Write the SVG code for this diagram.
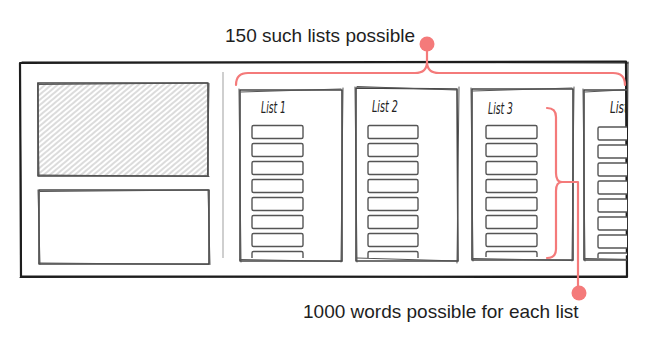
<svg xmlns="http://www.w3.org/2000/svg" width="650" height="339" viewBox="0 0 650 339">
<defs>
<style>
.frame{fill:none;stroke:#1e1e1e;stroke-width:2.2;stroke-linecap:round;stroke-linejoin:round}
.frame2{fill:none;stroke:#1e1e1e;stroke-width:1;stroke-linecap:round}
.box{fill:none;stroke:#444;stroke-width:1.6;stroke-linecap:round;stroke-linejoin:round}
.box2{fill:none;stroke:#555;stroke-width:1;stroke-linecap:round}
.item{fill:#fff;stroke:#555;stroke-width:1.4}
.title{font-family:"DejaVu Sans",sans-serif;font-style:italic;font-weight:200;font-size:15px;fill:#222}
.label{font-family:"Liberation Sans",Arial,sans-serif;font-size:19px;fill:#1e1e1e}
.red{fill:none;stroke:#f47a7a;stroke-width:2.2;stroke-linecap:round;stroke-linejoin:round}
.dot{fill:#f47a7a}
.hatch{stroke:#b8b8b8;stroke-width:1}
</style>
<pattern id="hatch" patternUnits="userSpaceOnUse" width="4" height="4" patternTransform="rotate(-40)">
<line x1="0" y1="2" x2="4" y2="2" class="hatch"/>
</pattern>
<clipPath id="fclip"><rect x="0" y="0" width="627" height="339"/></clipPath>
</defs>

<g id="frame">
<path class="frame" d="M20,63 L626,61.5 L627,277 L21,276.5 Z"/>
<path class="frame2" d="M22,62 L400,62.5 L628,63 M20,64 L21.5,276 M628,62 L626.5,276 M20,277.5 L627,276"/>
</g>

<g id="hatched-panel">
<rect x="38" y="83" width="170" height="93" fill="url(#hatch)"/>
<path class="box" d="M38,83 L208,83 L208,176 L38,176 Z"/>
<path class="box2" d="M39,84.5 L207,83 M37.5,83 L39,176 M209,83.5 L207.5,176.5 M38,175 L209,176.5"/>
</g>

<g id="empty-panel">
<path class="box" d="M39,190 L209,190 L209,264 L39,264 Z"/>
<path class="box2" d="M40,191.5 L208,190 M38,190 L40,264 M208,190 L210,264.5 M39,263 L209,264.5"/>
</g>

<g id="divider">
<line x1="223" y1="72" x2="223" y2="258" stroke="#cfcfcf" stroke-width="2"/>
</g>

<g id="list1">
<path class="box" d="M240,90 L342,90 L342,261 L240,261 Z"/>
<path class="box2" d="M241,92 L341,89 M239,89 L241,262 M343,88 L341,262 M240,259.5 L342,261.5"/>
<text class="title" x="261" y="113" textLength="25" lengthAdjust="spacingAndGlyphs">List 1</text>
<g>
<rect class="item" x="252" y="125.5" width="51" height="13" rx="1.5"/>
<rect class="item" x="252" y="143.5" width="51" height="13" rx="1.5"/>
<rect class="item" x="252" y="161.5" width="51" height="13" rx="1.5"/>
<rect class="item" x="252" y="179.5" width="51" height="13" rx="1.5"/>
<rect class="item" x="252" y="197.5" width="51" height="13" rx="1.5"/>
<rect class="item" x="252" y="215.5" width="51" height="13" rx="1.5"/>
<rect class="item" x="252" y="233.5" width="51" height="13" rx="1.5"/>
<path class="item" fill="none" d="M252,258 L252,253 Q252,251.5 253.5,251.5 L301.5,251.5 Q303,251.5 303,253 L303,258"/>
</g>
</g>

<g id="list2">
<path class="box" d="M356,88 L457,89 L458,261 L356,261 Z"/>
<path class="box2" d="M357,86.5 L456,90 M355,87 L357,262 M459,87 L457,263 M357,258 L458,261"/>
<text class="title" x="372" y="112" textLength="26" lengthAdjust="spacingAndGlyphs">List 2</text>
<g>
<rect class="item" x="368" y="125.5" width="50" height="13" rx="1.5"/>
<rect class="item" x="368" y="143.5" width="50" height="13" rx="1.5"/>
<rect class="item" x="368" y="161.5" width="50" height="13" rx="1.5"/>
<rect class="item" x="368" y="179.5" width="50" height="13" rx="1.5"/>
<rect class="item" x="368" y="197.5" width="50" height="13" rx="1.5"/>
<rect class="item" x="368" y="215.5" width="50" height="13" rx="1.5"/>
<rect class="item" x="368" y="233.5" width="50" height="13" rx="1.5"/>
<path class="item" fill="none" d="M368,258 L368,253 Q368,251.5 369.5,251.5 L416.5,251.5 Q418,251.5 418,253 L418,258"/>
</g>
</g>

<g id="list3">
<path class="box" d="M472,89 L573,89 L573,260 L472,260 Z"/>
<path class="box2" d="M473,91 L572,88 M471,88 L473,261 M574,87 L572,261 M473,258.5 L573,260.5"/>
<text class="title" x="488" y="114" textLength="25" lengthAdjust="spacingAndGlyphs">List 3</text>
<g>
<rect class="item" x="486" y="125.5" width="51" height="13" rx="1.5"/>
<rect class="item" x="486" y="143.5" width="51" height="13" rx="1.5"/>
<rect class="item" x="486" y="161.5" width="51" height="13" rx="1.5"/>
<rect class="item" x="486" y="179.5" width="51" height="13" rx="1.5"/>
<rect class="item" x="486" y="197.5" width="51" height="13" rx="1.5"/>
<rect class="item" x="486" y="215.5" width="51" height="13" rx="1.5"/>
<rect class="item" x="486" y="233.5" width="51" height="13" rx="1.5"/>
<path class="item" fill="none" d="M486,257 L486,253 Q486,251.5 487.5,251.5 L535.5,251.5 Q537,251.5 537,253 L537,257"/>
</g>
</g>

<g id="list4" clip-path="url(#fclip)">
<path class="box" d="M584,90 L660,90 M584,90 L584,260 L660,260"/>
<path class="box2" d="M585,92 L660,88 M583,89 L585,261 M585,258.5 L660,260"/>
<text class="title" x="610" y="113" textLength="18" lengthAdjust="spacingAndGlyphs">List</text>
<g>
<rect class="item" x="598" y="127" width="51" height="13" rx="1.5"/>
<rect class="item" x="598" y="145" width="51" height="13" rx="1.5"/>
<rect class="item" x="598" y="163" width="51" height="13" rx="1.5"/>
<rect class="item" x="598" y="181" width="51" height="13" rx="1.5"/>
<rect class="item" x="598" y="199" width="51" height="13" rx="1.5"/>
<rect class="item" x="598" y="217" width="51" height="13" rx="1.5"/>
<rect class="item" x="598" y="235" width="51" height="13" rx="1.5"/>
<path class="item" fill="none" d="M598,258 L598,254.5 Q598,253 599.5,253 L649,253"/>
</g>
</g>

<g id="connectors">
<path class="red" d="M236,85 Q236,73 248,73 L415,73 Q427,73 427,62 Q427,73 439,73 L613,73 Q625,73 625,85"/>
<path class="red" d="M427,62 L427,44"/>
<circle class="dot" cx="427" cy="44" r="7.5"/>
<path class="red" d="M547,108 Q556,108 556,117 L556,173 Q556,182 562,182 Q556,182 556,191 L556,249 Q556,258 547,258"/>
<path class="red" d="M560,182 L578,182 L578,293"/>
<circle class="dot" cx="579" cy="293" r="7.5"/>
</g>

<g id="labels">
<text class="label" x="225" y="42">150 such lists possible</text>
<text class="label" x="303" y="318">1000 words possible for each list</text>
</g>
</svg>
